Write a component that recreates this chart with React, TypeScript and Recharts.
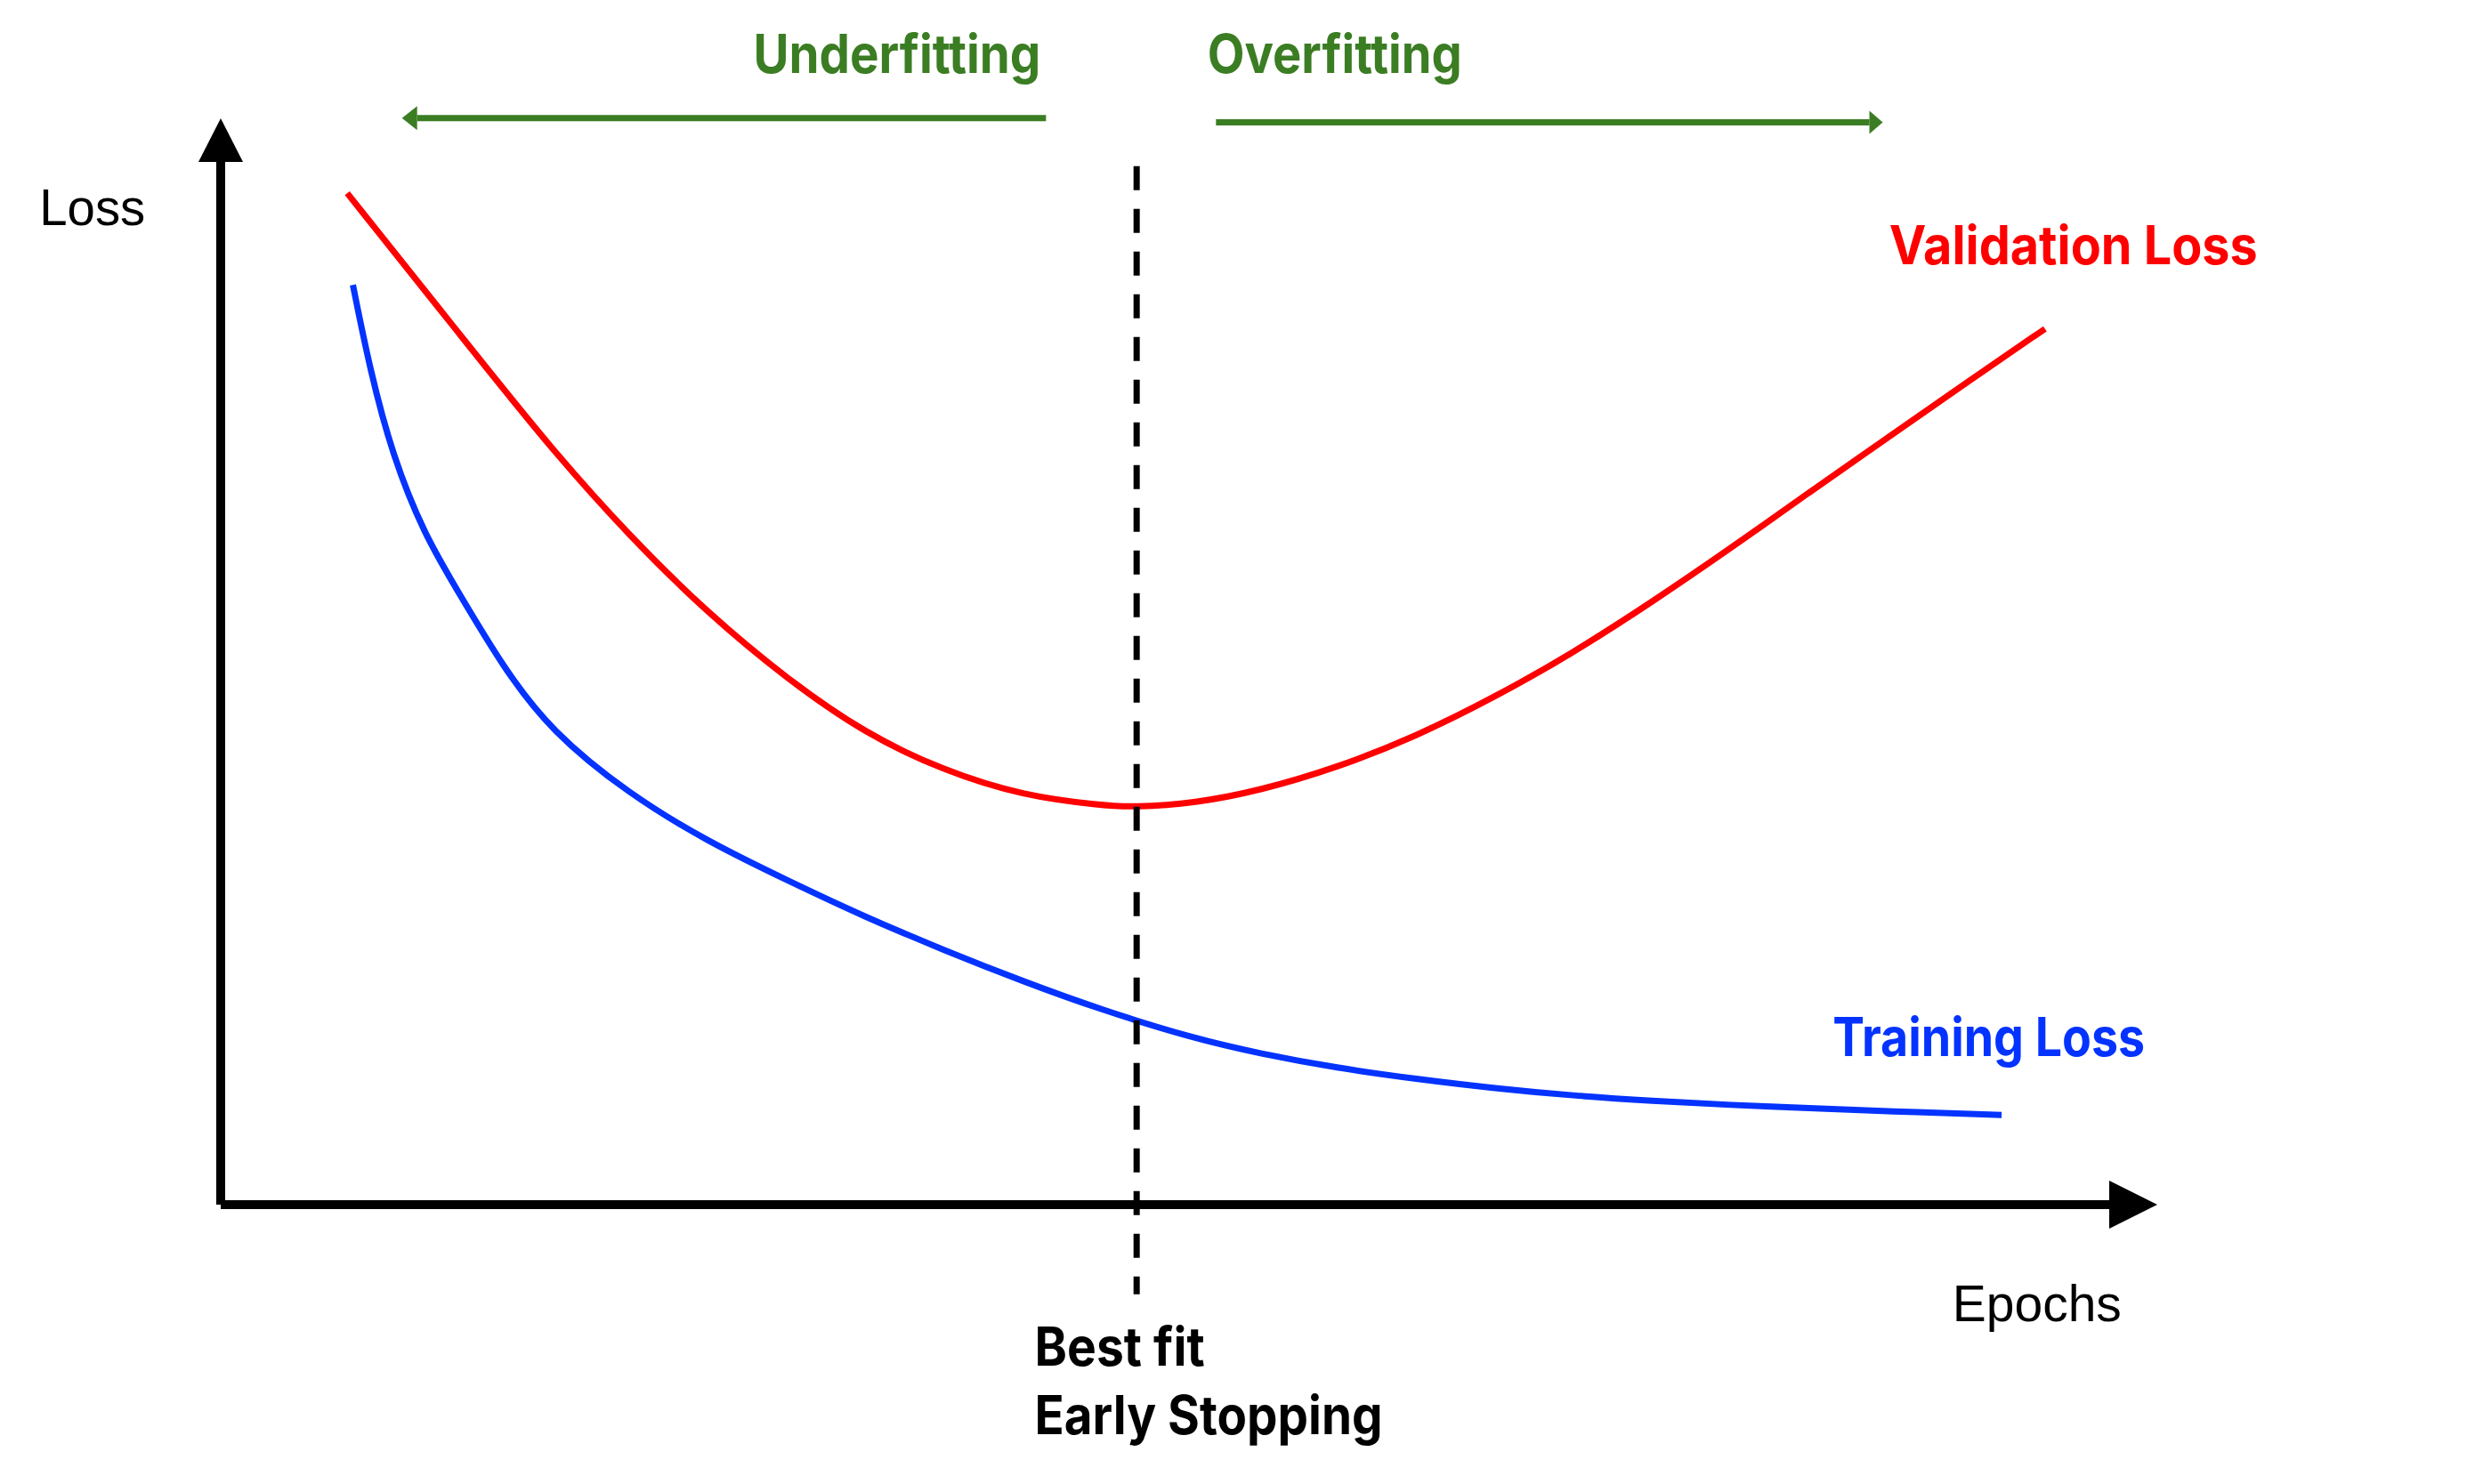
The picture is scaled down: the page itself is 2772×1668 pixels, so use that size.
import { LineChart, Line, XAxis, YAxis, ReferenceLine, ReferenceDot } from 'recharts'

// validation loss curve (epochs on 0..100, loss on 0..100)
const validationEpochs = [6.7, 13.3, 17.5, 21.6, 25.8, 30.0, 34.1, 38.3, 42.5, 46.6, 48.3, 51.6, 55.0, 59.1, 63.3, 67.5, 71.6, 75.8, 80.0, 84.1, 88.3, 92.5, 96.6]
const validationLoss = [97.0, 82.0, 72.5, 64.2, 56.7, 50.4, 45.2, 41.6, 39.2, 38.3, 38.1, 38.5, 39.7, 41.9, 44.9, 48.7, 52.9, 57.8, 63.0, 68.3, 73.6, 78.9, 84.0]

// training loss curve
const trainingEpochs = [7.0, 7.9, 9.1, 10.8, 12.5, 15.0, 17.5, 21.6, 25.8, 30.0, 34.1, 38.3, 42.5, 46.6, 51.6, 55.0, 59.1, 63.3, 67.5, 71.6, 75.8, 80.0, 84.1, 88.3, 94.3]
const trainingLoss = [88.2, 80.1, 71.8, 64.2, 59.0, 51.4, 45.4, 39.4, 34.8, 31.1, 27.6, 24.4, 21.4, 18.7, 15.9, 14.5, 13.1, 12.05, 11.15, 10.45, 9.95, 9.55, 9.25, 8.95, 8.6]

const bestEpoch = 48.5

const validationData = validationEpochs.map((x, i) => ({ x, y: validationLoss[i] }))
const trainingData = trainingEpochs.map((x, i) => ({ x, y: trainingLoss[i] }))

const GREEN = '#3B7D23'
const RED = '#FF0000'
const BLUE = '#0433FF'
const BOLD = 'Inter, "Noto Sans", sans-serif'
const PLAIN = '"Liberation Sans", Arial, sans-serif'

function arrowHead(dir: string, len: number, half: number, fill: string) {
  return (p: any) => {
    const { cx, cy } = p
    let pts = ''
    if (dir === 'right') pts = `${cx},${cy - half} ${cx + len},${cy} ${cx},${cy + half}`
    if (dir === 'left') pts = `${cx},${cy - half} ${cx - len},${cy} ${cx},${cy + half}`
    if (dir === 'up') pts = `${cx - half},${cy} ${cx},${cy - len} ${cx + half},${cy}`
    return <polygon points={pts} fill={fill} />
  }
}

function textShape(text: string, fill: string, family: string, weight: number, size: number, width?: number) {
  return (p: any) => (
    <text
      x={p.cx}
      y={p.cy}
      fill={fill}
      fontFamily={family}
      fontWeight={weight}
      fontSize={size}
      textLength={width}
      lengthAdjust={width ? 'spacingAndGlyphs' : undefined}
    >
      {text}
    </text>
  )
}

export default function App() {
  return (
    <div style={{ position: 'absolute', left: 0, top: 0, background: '#fff' }}>
      <LineChart width={2772} height={1668} margin={{ top: 182, right: 402, bottom: 314, left: 248 }}>
        <XAxis type="number" dataKey="x" domain={[0, 100]} allowDataOverflow hide />
        <YAxis type="number" dataKey="y" domain={[0, 100]} allowDataOverflow hide />

        {/* axes with arrow heads */}
        <ReferenceLine segment={[{ x: 0, y: 0 }, { x: 100, y: 0 }]} stroke="#000" strokeWidth={10} ifOverflow="visible" />
        <ReferenceLine segment={[{ x: 0, y: 0 }, { x: 0, y: 100 }]} stroke="#000" strokeWidth={10} ifOverflow="visible" />
        <ReferenceDot x={100} y={0} r={0} ifOverflow="visible" shape={arrowHead('right', 54, 27, '#000')} />
        <ReferenceDot x={0} y={100} r={0} ifOverflow="visible" shape={arrowHead('up', 49, 25, '#000')} />

        <Line data={validationData} dataKey="y" type="basis" stroke={RED} strokeWidth={7} dot={false} isAnimationActive={false} />
        <Line data={trainingData} dataKey="y" type="basis" stroke={BLUE} strokeWidth={7} dot={false} isAnimationActive={false} />

        <ReferenceLine
          segment={[{ x: bestEpoch, y: 99.6 }, { x: bestEpoch, y: -8.6 }]}
          stroke="#000"
          strokeWidth={7}
          strokeDasharray="27 21"
          ifOverflow="visible"
        />

        {/* underfitting / overfitting arrows */}
        <ReferenceLine segment={[{ x: 43.7, y: 104.2 }, { x: 10.4, y: 104.2 }]} stroke={GREEN} strokeWidth={7} ifOverflow="visible" />
        <ReferenceDot x={10.4} y={104.2} r={0} ifOverflow="visible" shape={arrowHead('left', 17, 13.5, GREEN)} />
        <ReferenceLine segment={[{ x: 52.7, y: 103.8 }, { x: 87.3, y: 103.8 }]} stroke={GREEN} strokeWidth={7} ifOverflow="visible" />
        <ReferenceDot x={87.3} y={103.8} r={0} ifOverflow="visible" shape={arrowHead('right', 15, 13, GREEN)} />

        {/* labels */}
        <ReferenceDot x={28.2} y={108.5} r={0} ifOverflow="visible" shape={textShape('Underfitting', GREEN, BOLD, 700, 60, 323)} />
        <ReferenceDot x={52.25} y={108.5} r={0} ifOverflow="visible" shape={textShape('Overfitting', GREEN, BOLD, 700, 60, 286)} />
        <ReferenceDot x={88.35} y={90.2} r={0} ifOverflow="visible" shape={textShape('Validation Loss', RED, BOLD, 700, 60, 414)} />
        <ReferenceDot x={85.35} y={14.25} r={0} ifOverflow="visible" shape={textShape('Training Loss', BLUE, BOLD, 700, 60, 351)} />
        <ReferenceDot x={-9.6} y={93.9} r={0} ifOverflow="visible" shape={textShape('Loss', '#000', PLAIN, 400, 58, 119)} />
        <ReferenceDot x={91.7} y={-11.2} r={0} ifOverflow="visible" shape={textShape('Epochs', '#000', PLAIN, 400, 58, 190)} />
        <ReferenceDot x={43.1} y={-15.45} r={0} ifOverflow="visible" shape={textShape('Best fit', '#000', BOLD, 700, 60, 191)} />
        <ReferenceDot x={43.1} y={-22.0} r={0} ifOverflow="visible" shape={textShape('Early Stopping', '#000', BOLD, 700, 60, 391)} />
      </LineChart>
    </div>
  )
}
